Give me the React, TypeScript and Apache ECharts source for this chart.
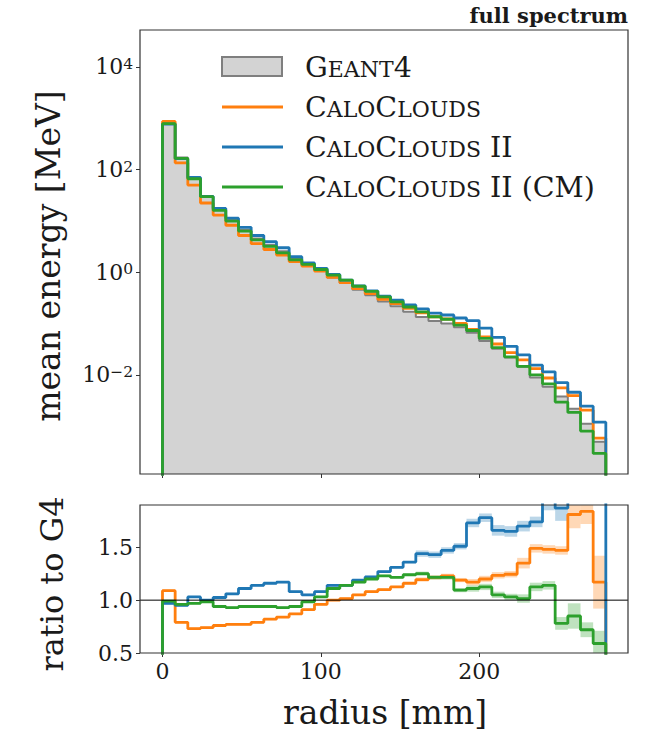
import React, { useEffect, useRef } from "react";
import * as echarts from "echarts";

// bin edges of the radial histogram [mm]
const binEdges = [0, 8, 16, 24, 32, 40, 48, 56, 64, 72, 80, 88, 96, 104, 112, 120, 128, 136, 144, 152, 160, 168, 176, 184, 192, 200, 208, 216, 224, 232, 240, 248, 256, 264, 272, 280];

// Geant4 mean energy per bin [MeV]
const geant4 = [794, 172, 68.4, 30.2, 17.1, 10.7, 6.76, 4.57, 3.39, 2.57, 1.86, 1.45, 1.10, 0.794, 0.617, 0.457, 0.355, 0.269, 0.219, 0.170, 0.135, 0.112, 0.100, 0.0851, 0.0661, 0.0457, 0.0324, 0.0219, 0.0145, 0.00891, 0.00589, 0.0038, 0.00219, 0.00112, 0.000501];

// ratios to Geant4
const ratioCC = [1.09, 0.79, 0.73, 0.74, 0.76, 0.77, 0.77, 0.79, 0.82, 0.84, 0.87, 0.91, 0.96, 1.0, 1.015, 1.05, 1.08, 1.10, 1.125, 1.16, 1.195, 1.215, 1.23, 1.19, 1.17, 1.20, 1.235, 1.245, 1.35, 1.49, 1.48, 1.47, 1.81, 1.84, 1.17];
const ratioCC2 = [0.97, 0.95, 1.03, 1.0, 1.025, 1.06, 1.11, 1.14, 1.16, 1.17, 1.08, 1.05, 1.08, 1.14, 1.14, 1.19, 1.22, 1.27, 1.31, 1.36, 1.44, 1.43, 1.47, 1.51, 1.73, 1.78, 1.66, 1.65, 1.70, 1.74, 1.95, 1.87, 2.1, 2.2, 2.4];
const ratioCM = [0.99, 0.96, 0.97, 0.985, 0.94, 0.93, 0.94, 0.94, 0.94, 0.93, 0.94, 0.985, 1.03, 1.11, 1.14, 1.17, 1.20, 1.23, 1.215, 1.24, 1.25, 1.215, 1.215, 1.095, 1.11, 1.125, 1.05, 1.03, 1.015, 1.125, 1.14, 0.78, 0.85, 0.72, 0.59];

// uncertainty half-widths of the ratios
const errCC = [0.01, 0.01, 0.01, 0.01, 0.01, 0.01, 0.01, 0.01, 0.01, 0.01, 0.01, 0.01, 0.01, 0.01, 0.01, 0.01, 0.01, 0.01, 0.01, 0.01, 0.02, 0.02, 0.02, 0.02, 0.03, 0.03, 0.03, 0.03, 0.05, 0.04, 0.04, 0.04, 0.13, 0.12, 0.25];
const errCC2 = [0.01, 0.01, 0.01, 0.01, 0.01, 0.01, 0.01, 0.01, 0.01, 0.01, 0.01, 0.01, 0.01, 0.01, 0.01, 0.01, 0.01, 0.01, 0.01, 0.01, 0.03, 0.03, 0.03, 0.03, 0.04, 0.04, 0.05, 0.05, 0.05, 0.05, 0.10, 0.12, 0.2, 0.25, 0.45];
const errCM = [0.01, 0.01, 0.01, 0.01, 0.01, 0.01, 0.01, 0.01, 0.01, 0.01, 0.01, 0.01, 0.01, 0.01, 0.01, 0.01, 0.01, 0.01, 0.01, 0.01, 0.02, 0.02, 0.02, 0.02, 0.03, 0.03, 0.03, 0.03, 0.04, 0.04, 0.04, 0.06, 0.12, 0.07, 0.12];

const topExponents = [-2, 0, 2, 4];
const ratioTicks = [0.5, 1.0, 1.5];
const radiusTicks = [0, 100, 200];

const legendNames = ["Geant4", "CaloClouds", "CaloClouds II", "CaloClouds II (CM)"];

const C_ORANGE = "#ff7f0e";
const C_BLUE = "#1f77b4";
const C_GREEN = "#2ca02c";
const FONT = "DejaVu Serif";
const INK = "#1a1a1a";

function stepPoints(vals: number[], low: number) {
  const pts: number[][] = [[binEdges[0], low]];
  vals.forEach((v, i) => {
    pts.push([binEdges[i], v]);
    pts.push([binEdges[i + 1], v]);
  });
  pts.push([binEdges[binEdges.length - 1], low]);
  return pts;
}

function bandData(ratio: number[], err: number[]) {
  return ratio.map((r, i) => [binEdges[i], binEdges[i + 1], r - err[i], r + err[i]]);
}

function bandSeries(ratio: number[], err: number[], color: string) {
  return {
    type: "custom",
    xAxisIndex: 1,
    yAxisIndex: 1,
    clip: true,
    silent: true,
    z: 2,
    encode: { x: [0, 1], y: [2, 3] },
    data: bandData(ratio, err),
    renderItem: (params: any, api: any) => {
      const p0 = api.coord([api.value(0), api.value(3)]);
      const p1 = api.coord([api.value(1), api.value(2)]);
      return {
        type: "rect",
        shape: { x: p0[0], y: p0[1], width: p1[0] - p0[0], height: p1[1] - p0[1] },
        style: { fill: color, opacity: 0.3 },
      };
    },
  };
}

function smallCaps(name: string) {
  // rich text: capitals large, lowercase letters as small capitals
  let out = "";
  let buf = "";
  let mode = "";
  const flush = () => {
    if (buf) out += `{${mode}|${buf}}`;
    buf = "";
  };
  for (const ch of name) {
    const m = ch >= "a" && ch <= "z" ? "sm" : "big";
    if (m !== mode) {
      flush();
      mode = m;
    }
    buf += m === "sm" ? ch.toUpperCase() : ch;
  }
  flush();
  return out;
}

export default function App() {
  const ref = useRef<HTMLDivElement>(null);

  useEffect(() => {
    if (!ref.current) return;
    const chart = echarts.init(ref.current, undefined, { renderer: "svg" });

    const logG4 = geant4.map((v) => Math.log10(v));
    const logModel = (ratio: number[]) => geant4.map((v, i) => Math.log10(v * ratio[i]));

    const topLine = (data: number[][], color: string, z: number) => ({
      type: "line",
      xAxisIndex: 0,
      yAxisIndex: 0,
      data,
      symbol: "none",
      clip: true,
      z,
      lineStyle: { color, width: 2.8 },
    });
    const ratioLine = (data: number[][], color: string, z: number) => ({
      type: "line",
      xAxisIndex: 1,
      yAxisIndex: 1,
      data,
      symbol: "none",
      clip: true,
      z,
      lineStyle: { color, width: 2.8 },
    });

    const xMin = -14.2;
    const xMax = 294;

    const tickStyle = { show: true, length: 4, lineStyle: { color: "#333", width: 1 } };
    const hiddenLine = { show: false, onZero: false };

    const legendRows = [107, 147, 187];
    const legendColors = [C_ORANGE, C_BLUE, C_GREEN];
    const richLegend = {
      big: { fontSize: 28.5, fontFamily: FONT, fill: INK, verticalAlign: "bottom" },
      sm: { fontSize: 22, fontFamily: FONT, fill: INK, verticalAlign: "bottom", padding: [0, 0, 1, 0] },
    };

    const graphics: any[] = [
      {
        type: "rect",
        shape: { x: 222, y: 57, width: 60, height: 19 },
        style: { fill: "#d3d3d3", stroke: "#7f7f7f", lineWidth: 2 },
        z: 100,
      },
      {
        type: "text",
        x: 305,
        y: 67,
        z: 100,
        style: { text: smallCaps(legendNames[0]), rich: richLegend, verticalAlign: "middle", align: "left" },
      },
      ...legendRows.flatMap((y, i) => [
        {
          type: "line",
          shape: { x1: 222, y1: y, x2: 283, y2: y },
          style: { stroke: legendColors[i], lineWidth: 2.8 },
          z: 100,
        },
        {
          type: "text",
          x: 305,
          y,
          z: 100,
          style: { text: smallCaps(legendNames[i + 1]), rich: richLegend, verticalAlign: "middle", align: "left" },
        },
      ]),
      {
        type: "text",
        x: 628,
        y: 15,
        z: 100,
        style: { text: "full spectrum", font: `bold 21px '${FONT}'`, fill: INK, align: "right", verticalAlign: "middle" },
      },
      {
        type: "text",
        x: 48,
        y: 256,
        rotation: Math.PI / 2,
        z: 100,
        style: { text: "mean energy [MeV]", font: `33px '${FONT}'`, fill: INK, align: "center", verticalAlign: "middle" },
      },
      {
        type: "text",
        x: 52,
        y: 584,
        rotation: Math.PI / 2,
        z: 100,
        style: { text: "ratio to G4", font: `32px '${FONT}'`, fill: INK, align: "center", verticalAlign: "middle" },
      },
      {
        type: "text",
        x: 385,
        y: 712,
        z: 100,
        style: { text: "radius [mm]", font: `33px '${FONT}'`, fill: INK, align: "center", verticalAlign: "middle" },
      },
    ];

    const option: any = {
      animation: false,
      backgroundColor: "#ffffff",
      textStyle: { fontFamily: FONT },
      grid: [
        { left: 140, top: 30, width: 488, height: 444, show: true, borderColor: "#333", borderWidth: 1.2, backgroundColor: "rgba(0,0,0,0)", z: 10 },
        { left: 140, top: 505, width: 488, height: 148, show: true, borderColor: "#333", borderWidth: 1.2, backgroundColor: "rgba(0,0,0,0)", z: 10 },
      ],
      xAxis: [
        {
          type: "value",
          gridIndex: 0,
          position: "bottom",
          min: xMin,
          max: xMax,
          axisLine: hiddenLine,
          axisTick: { ...tickStyle, customValues: radiusTicks },
          axisLabel: { show: false, customValues: radiusTicks },
          splitLine: { show: false },
        },
        {
          type: "value",
          gridIndex: 1,
          position: "bottom",
          min: xMin,
          max: xMax,
          axisLine: hiddenLine,
          axisTick: { ...tickStyle, customValues: radiusTicks },
          axisLabel: { customValues: radiusTicks, fontSize: 22, fontFamily: FONT, color: INK, margin: 7 },
          splitLine: { show: false },
        },
      ],
      yAxis: [
        {
          type: "value",
          gridIndex: 0,
          position: "left",
          min: -3.93,
          max: 4.72,
          axisLine: hiddenLine,
          axisTick: { ...tickStyle, customValues: topExponents },
          axisLabel: {
            customValues: topExponents,
            margin: 7,
            formatter: (v: number) => `{b|10}{s|${v < 0 ? "\u2212" + -v : v}}`,
            rich: {
              b: { fontSize: 22, fontFamily: FONT, color: INK, verticalAlign: "bottom" },
              s: { fontSize: 15.5, fontFamily: FONT, color: INK, verticalAlign: "top" },
            },
          },
          splitLine: { show: false },
        },
        {
          type: "value",
          gridIndex: 1,
          position: "left",
          min: 0.5,
          max: 1.9,
          axisLine: hiddenLine,
          axisTick: { ...tickStyle, customValues: ratioTicks },
          axisLabel: {
            customValues: ratioTicks,
            margin: 7,
            fontSize: 22,
            fontFamily: FONT,
            color: INK,
            formatter: (v: number) => v.toFixed(1),
          },
          splitLine: { show: false },
        },
      ],
      graphic: graphics,
      series: [
        {
          type: "line",
          name: legendNames[0],
          xAxisIndex: 0,
          yAxisIndex: 0,
          data: stepPoints(logG4, -10),
          symbol: "none",
          clip: true,
          z: 1,
          lineStyle: { color: "#7f7f7f", width: 2 },
          areaStyle: { color: "#d3d3d3", opacity: 1, origin: "start" },
        },
        topLine(stepPoints(logModel(ratioCC), -10), C_ORANGE, 3),
        topLine(stepPoints(logModel(ratioCC2), -10), C_BLUE, 4),
        topLine(stepPoints(logModel(ratioCM), -10), C_GREEN, 5),
        bandSeries(ratioCC, errCC, C_ORANGE),
        bandSeries(ratioCC2, errCC2, C_BLUE),
        bandSeries(ratioCM, errCM, C_GREEN),
        ratioLine(stepPoints(ratioCC, -1), C_ORANGE, 3),
        ratioLine(stepPoints(ratioCC2, -1), C_BLUE, 4),
        ratioLine(stepPoints(ratioCM, -1), C_GREEN, 5),
        {
          type: "line",
          xAxisIndex: 1,
          yAxisIndex: 1,
          data: [[xMin, 1], [xMax, 1]],
          symbol: "none",
          z: 6,
          lineStyle: { color: "#000", width: 1 },
        },
      ],
    };

    chart.setOption(option);
    return () => chart.dispose();
  }, []);

  return (
    <div
      ref={ref}
      style={{ position: "fixed", left: 0, top: 0, width: 652, height: 741, background: "#fff" }}
    />
  );
}
